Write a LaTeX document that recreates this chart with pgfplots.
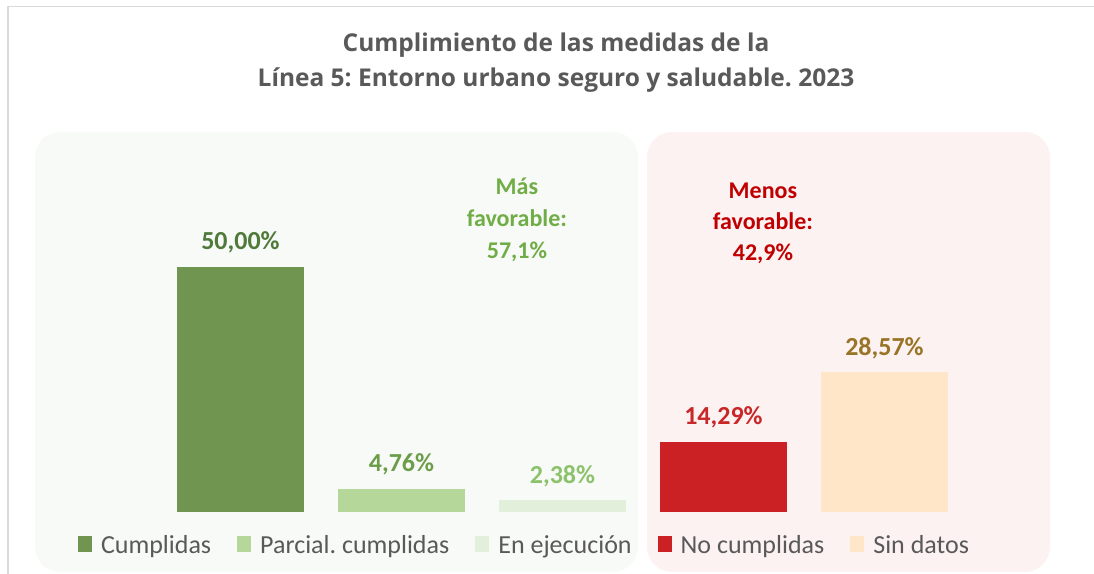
\documentclass[border=0pt]{standalone}
\usepackage{fontspec}
\setmainfont{Carlito}
\newfontfamily\titlefont{Open Sans}
\usepackage{pgfplots}
\pgfplotsset{compat=1.18}
\frenchspacing

\definecolor{framegray}{HTML}{D9D9D9}
\definecolor{titlegray}{HTML}{595959}
\definecolor{greenpanel}{HTML}{F8FAF7}
\definecolor{pinkpanel}{HTML}{FDF2F2}
\definecolor{cumpl}{HTML}{6F9550}
\definecolor{cumplLab}{HTML}{507A3A}
\definecolor{parc}{HTML}{B5D89A}
\definecolor{parcLab}{HTML}{6C9E4A}
\definecolor{ejec}{HTML}{E2EFDA}
\definecolor{ejecLab}{HTML}{8DC26C}
\definecolor{nocum}{HTML}{CB2124}
\definecolor{nocumLab}{HTML}{C8282A}
\definecolor{sind}{HTML}{FFE6C8}
\definecolor{sindLab}{HTML}{9A7426}
\definecolor{masgreen}{HTML}{70AD47}
\definecolor{menosred}{HTML}{C00000}

\begin{document}
\begin{tikzpicture}[x=1pt,y=1pt]
\useasboundingbox (0,0) rectangle (1094,573);
% frame and panels
\draw[framegray, line width=1.5pt] (8,-2) -- (8,566.5) -- (1100,566.5);
\fill[greenpanel, rounded corners=25pt] (35,1) rectangle (638,441);
\fill[pinkpanel, rounded corners=25pt] (647,1) rectangle (1050,441);
\node[font=\titlefont\bfseries\fontsize{24.5}{35}\selectfont, text=titlegray, align=center]
  at (556,510.5) {Cumplimiento de las medidas de la\\Línea 5: Entorno urbano seguro y saludable. 2023};

\begin{axis}[
  at={(35pt,61pt)}, anchor=south west,
  scale only axis, width=1015pt, height=380pt,
  xmin=-1.2764, xmax=5.028, ymin=0, ymax=77.55,
  hide axis, clip=false,
  ybar, bar width=127pt,
  /pgf/number format/assume math mode=true,
  nodes near coords={\pgfmathprintnumber[fixed,fixed zerofill,precision=2,use comma]{\pgfplotspointmeta}\%},
  every node near coord/.append style={anchor=base, yshift=17pt, font=\bfseries\fontsize{26}{30}\selectfont},
  legend columns=-1,
  legend style={at={(0.4823,-0.0868)}, anchor=center, draw=none, fill=none,
    font=\fontsize{26}{30}\selectfont, text=titlegray,
    /tikz/every odd column/.append style={column sep=7pt},
    /tikz/every even column/.append style={column sep=24pt}},
  legend image code/.code={\fill[#1] (0pt,-7pt) rectangle (14pt,9pt);},
]
\addplot[fill=cumpl, draw=none, bar shift=0pt, every node near coord/.append style={text=cumplLab}] coordinates {(0,50.00)};
\addlegendentry{Cumplidas}
\addplot[fill=parc, draw=none, bar shift=0pt, every node near coord/.append style={text=parcLab}] coordinates {(1,4.76)};
\addlegendentry{Parcial. cumplidas}
\addplot[fill=ejec, draw=none, bar shift=0pt, every node near coord/.append style={text=ejecLab}] coordinates {(2,2.38)};
\addlegendentry{En ejecución}
\addplot[fill=nocum, draw=none, bar shift=0pt, every node near coord/.append style={text=nocumLab}] coordinates {(3,14.29)};
\addlegendentry{No cumplidas}
\addplot[fill=sind, draw=none, bar shift=0pt, every node near coord/.append style={text=sindLab}] coordinates {(4,28.57)};
\addlegendentry{Sin datos}

\node[align=center, font=\bfseries\fontsize{24}{32}\selectfont, text=masgreen]
  at (axis cs:1.717,59.6) {Más\\favorable:\\57,1\%};
\node[align=center, font=\bfseries\fontsize{24}{31}\selectfont, text=menosred]
  at (axis cs:3.245,59.0) {Menos\\favorable:\\42,9\%};
\end{axis}
\end{tikzpicture}
\end{document}
